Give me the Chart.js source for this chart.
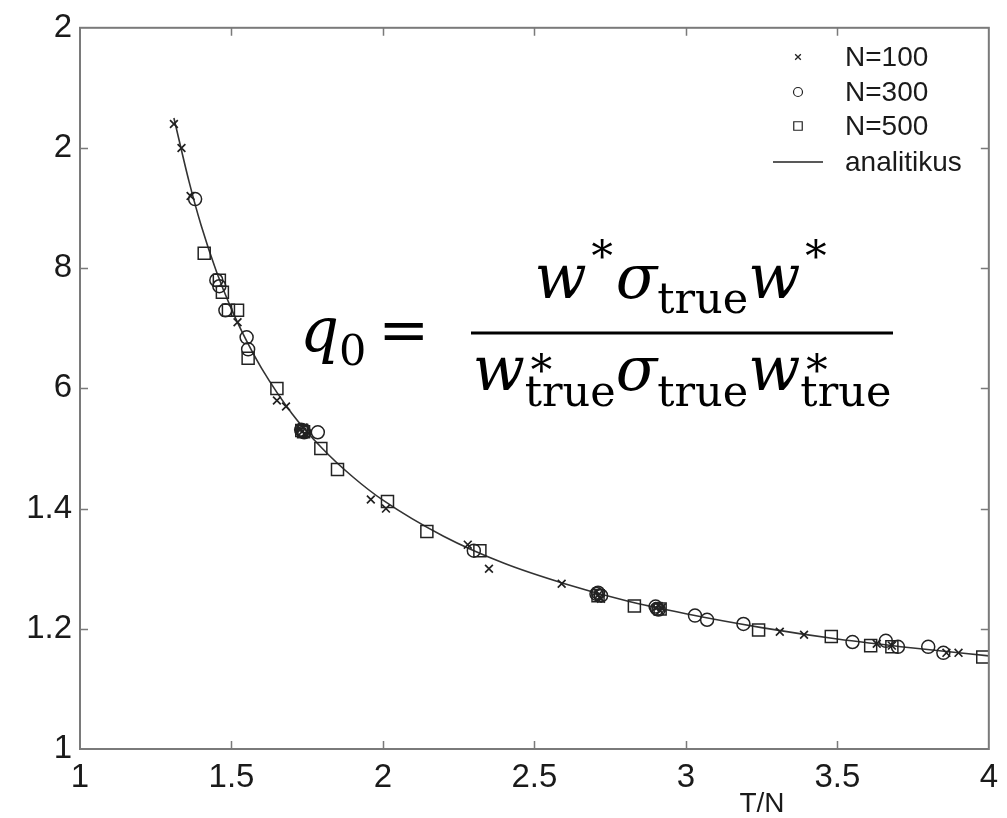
<!DOCTYPE html>
<html><head><meta charset="utf-8">
<script src="https://cdn.jsdelivr.net/npm/chart.js@4.4.1/dist/chart.umd.min.js"></script>
<style>html,body{margin:0;padding:0;background:#fff}#wrap{width:1007px;height:818px}</style>
</head><body><div id="wrap"><canvas id="c" width="1007" height="818"></canvas></div>
<script>
// ---- data ----
const xTickValues = [1, 1.5, 2, 2.5, 3, 3.5, 4];
const xTickLabels = ['1', '1.5', '2', '2.5', '3', '3.5', '4'];
const yTickValues = [1, 1.2, 1.4, 1.6, 1.8, 2.0, 2.2];
const yTickLabels = ['1', '1.2', '1.4', '6', '8', '2', '2'];
const seriesNames = ['N=100', 'N=300', 'N=500', 'analitikus'];
const xTitle = 'T/N';

const n100X = [1.31, 1.335, 1.365, 1.52, 1.65, 1.68, 1.728, 1.733, 1.738, 1.742, 1.96, 2.01, 2.28, 2.35, 2.59, 2.705, 2.71, 2.715, 2.72, 2.90, 2.91, 2.915, 2.92, 3.31, 3.39, 3.63, 3.68, 3.86, 3.90];
const n100Y = [2.04, 2.0, 1.92, 1.71, 1.58, 1.57, 1.532, 1.528, 1.535, 1.525, 1.415, 1.40, 1.34, 1.30, 1.275, 1.262, 1.256, 1.252, 1.25, 1.235, 1.238, 1.23, 1.235, 1.195, 1.19, 1.175, 1.172, 1.16, 1.16];

const n300X = [1.38, 1.45, 1.46, 1.48, 1.55, 1.555, 1.73, 1.735, 1.74, 1.785, 2.30, 2.705, 2.71, 2.72, 2.90, 2.905, 2.91, 3.03, 3.07, 3.19, 3.55, 3.66, 3.70, 3.80, 3.85];
const n300Y = [1.915, 1.78, 1.77, 1.73, 1.685, 1.665, 1.531, 1.53, 1.527, 1.527, 1.33, 1.258, 1.26, 1.255, 1.237, 1.233, 1.232, 1.222, 1.215, 1.208, 1.178, 1.18, 1.17, 1.17, 1.16];

const n500X = [1.41, 1.46, 1.47, 1.49, 1.52, 1.555, 1.65, 1.732, 1.738, 1.795, 1.85, 2.015, 2.145, 2.32, 2.71, 2.83, 2.915, 3.24, 3.48, 3.61, 3.68, 3.98];
const n500Y = [1.825, 1.78, 1.76, 1.73, 1.73, 1.65, 1.60, 1.53, 1.528, 1.50, 1.465, 1.412, 1.362, 1.33, 1.255, 1.238, 1.233, 1.198, 1.187, 1.172, 1.17, 1.153];

const curveX = [1.31, 1.36, 1.40, 1.45, 1.5, 1.55, 1.6, 1.7, 1.8, 1.9, 2.0, 2.2, 2.4, 2.6, 2.8, 3.0, 3.25, 3.5, 3.75, 4.0];
const curveY = [2.05, 1.944, 1.871, 1.795, 1.732, 1.679, 1.633, 1.558, 1.5, 1.453, 1.414, 1.354, 1.309, 1.275, 1.247, 1.225, 1.202, 1.183, 1.168, 1.155];

const pts = (xs, ys) => xs.map((x, i) => ({ x: x, y: ys[i] }));

const INK = '#222';
const AXIS = '#7a7a7a';
const TICKFONT = { family: '"Liberation Sans", Arial, sans-serif', size: 33 };
const SERIF = '"DejaVu Serif", "Liberation Serif", serif';

const boxPlugin = {
  id: 'boxPlugin',
  afterDraw(chart) {
    const ctx = chart.ctx;
    const a = chart.chartArea;
    const xs = chart.scales.x, ys = chart.scales.y;
    ctx.save();
    ctx.strokeStyle = AXIS;
    ctx.lineWidth = 2;
    ctx.strokeRect(a.left, a.top, a.right - a.left, a.bottom - a.top);
    ctx.lineWidth = 1.5;
    const L = 8;
    ctx.beginPath();
    xTickValues.slice(1, -1).forEach(v => {
      const p = Math.round(xs.getPixelForValue(v)) + 0.5;
      ctx.moveTo(p, a.bottom); ctx.lineTo(p, a.bottom - L);
      ctx.moveTo(p, a.top); ctx.lineTo(p, a.top + L);
    });
    yTickValues.slice(1, -1).forEach(v => {
      const p = Math.round(ys.getPixelForValue(v)) + 0.5;
      ctx.moveTo(a.left, p); ctx.lineTo(a.left + L, p);
      ctx.moveTo(a.right, p); ctx.lineTo(a.right - L, p);
    });
    ctx.stroke();

    // legend
    const rows = [57, 92, 126, 162];
    const mx = 798;
    ctx.font = '28px "Liberation Sans", Arial, sans-serif';
    ctx.textBaseline = 'middle';
    ctx.textAlign = 'left';
    const styles = [
      { pointStyle: 'crossRot', radius: 4, rotation: 0, borderWidth: 1.3 },
      { pointStyle: 'circle', radius: 4.5, rotation: 0, borderWidth: 1.2 },
      { pointStyle: 'rect', radius: 6, rotation: 0, borderWidth: 1.2 }
    ];
    ctx.strokeStyle = INK;
    for (let i = 0; i < 3; i++) {
      ctx.lineWidth = styles[i].borderWidth;
      ctx.fillStyle = 'rgba(0,0,0,0)';
      Chart.helpers.drawPoint(ctx, styles[i], mx, rows[i]);
    }
    ctx.lineWidth = 1.5;
    ctx.beginPath(); ctx.moveTo(773, rows[3]); ctx.lineTo(823, rows[3]); ctx.stroke();
    ctx.fillStyle = '#1a1a1a';
    seriesNames.forEach((n, i) => ctx.fillText(n, 845, rows[i] + 1));

    // x title
    ctx.textAlign = 'center';
    ctx.textBaseline = 'middle';
    ctx.fillText(xTitle, 762, 804);

    drawFormula(ctx);
    ctx.restore();
  }
};

function fontFor(kind, S) {
  if (kind === 'it') return 'italic ' + S + 'px ' + SERIF;
  if (kind === 'rm') return S + 'px ' + SERIF;
  return Math.round(S * 0.7) + 'px ' + SERIF;
}

function layoutRow(ctx, segs, S) {
  let w = 0;
  segs.forEach(s => {
    if (s.k === 'supsub') {
      ctx.font = fontFor('small', S);
      s.w = Math.max(ctx.measureText(s.sup).width, ctx.measureText(s.sub).width);
    } else {
      ctx.font = fontFor(s.k === 'sup' || s.k === 'sub' ? 'small' : s.k, S);
      s.w = ctx.measureText(s.t).width;
    }
    w += s.w + (s.gap || 0);
  });
  return w;
}

function drawStar(ctx, t, x, cy) {
  const m = ctx.measureText(t);
  const off = (m.actualBoundingBoxAscent - m.actualBoundingBoxDescent) / 2;
  ctx.fillText(t, x, cy + off);
}

function drawRow(ctx, segs, S, x0, base, supC, subDy) {
  let x = x0;
  ctx.textAlign = 'left';
  ctx.textBaseline = 'alphabetic';
  ctx.fillStyle = '#000';
  segs.forEach(s => {
    if (s.k === 'supsub') {
      ctx.font = fontFor('small', S);
      drawStar(ctx, s.sup, x + 2, base + supC);
      ctx.fillText(s.sub, x, base + subDy);
    } else if (s.k === 'sup') {
      ctx.font = fontFor('small', S);
      drawStar(ctx, s.t, x + 1, base + supC);
    } else if (s.k === 'sub') {
      ctx.font = fontFor('small', S);
      ctx.fillText(s.t, x, base + subDy);
    } else {
      ctx.font = fontFor(s.k, S);
      ctx.fillText(s.t, x, base);
    }
    x += s.w + (s.gap || 0);
  });
}

function drawFormula(ctx) {
  const left = [{ k: 'it', t: 'q' }, { k: 'sub', t: '0', gap: 12 }, { k: 'rm', t: '=' }];
  const num = [{ k: 'it', t: 'w' }, { k: 'sup', t: '∗' }, { k: 'it', t: 'σ' }, { k: 'sub', t: 'true' }, { k: 'it', t: 'w' }, { k: 'sup', t: '∗' }];
  const den = [{ k: 'it', t: 'w' }, { k: 'supsub', sup: '∗', sub: 'true' }, { k: 'it', t: 'σ' }, { k: 'sub', t: 'true' }, { k: 'it', t: 'w' }, { k: 'supsub', sup: '∗', sub: 'true' }];
  let S = 56;
  const dw = layoutRow(ctx, den, S);
  S = Math.max(46, Math.min(66, S * 415 / dw));
  layoutRow(ctx, left, S);
  const wn = layoutRow(ctx, num, S);
  const wd = layoutRow(ctx, den, S);
  const cx = 682;
  drawRow(ctx, left, S, 300, 351, -30, 14);
  drawRow(ctx, num, S, cx - wn / 2, 298, -50, 15);
  drawRow(ctx, den, S, cx - wd / 2, 390, -28, 16);
  ctx.fillStyle = '#000';
  ctx.fillRect(471, 331.5, 422, 3);
}

const chart = new Chart(document.getElementById('c'), {
  type: 'scatter',
  data: {
    datasets: [
      { label: seriesNames[3], data: pts(curveX, curveY), showLine: true, pointRadius: 0, borderColor: '#333', borderWidth: 1.6, cubicInterpolationMode: 'monotone', fill: false, order: 4 },
      { label: seriesNames[0], data: pts(n100X, n100Y), pointStyle: 'crossRot', pointRadius: 5.5, borderColor: INK, borderWidth: 1.7, backgroundColor: 'rgba(0,0,0,0)', order: 1 },
      { label: seriesNames[1], data: pts(n300X, n300Y), pointStyle: 'circle', pointRadius: 6.5, borderColor: INK, borderWidth: 1.5, backgroundColor: 'rgba(0,0,0,0)', order: 2 },
      { label: seriesNames[2], data: pts(n500X, n500Y), pointStyle: 'rect', pointRadius: 8.5, borderColor: INK, borderWidth: 1.5, backgroundColor: 'rgba(0,0,0,0)', order: 3 }
    ]
  },
  options: {
    responsive: false,
    animation: false,
    devicePixelRatio: 1,
    layout: { padding: { top: 26, right: 12, left: 0, bottom: 0 } },
    plugins: { legend: { display: false }, tooltip: { enabled: false } },
    scales: {
      x: {
        type: 'linear', min: 1, max: 4,
        afterBuildTicks: s => { s.ticks = xTickValues.map(v => ({ value: v })); },
        afterFit: s => { s.height = 69; },
        ticks: { callback: (v, i) => xTickLabels[i], font: TICKFONT, color: '#1a1a1a', padding: 9, maxRotation: 0, autoSkip: false },
        grid: { display: false, drawTicks: false },
        border: { display: false }
      },
      y: {
        type: 'linear', min: 1, max: 2.2,
        afterBuildTicks: s => { s.ticks = yTickValues.map(v => ({ value: v })); },
        afterFit: s => { s.width = 80; },
        ticks: { callback: (v, i) => yTickLabels[i], font: TICKFONT, color: '#1a1a1a', padding: 8, autoSkip: false },
        grid: { display: false, drawTicks: false },
        border: { display: false }
      }
    }
  },
  plugins: [boxPlugin]
});
</script>
</body></html>
